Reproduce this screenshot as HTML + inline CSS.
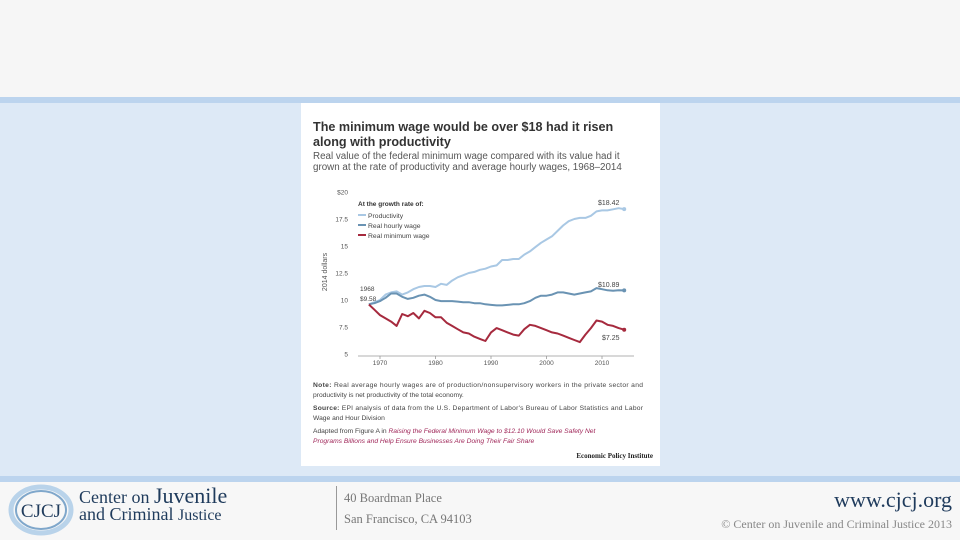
<!DOCTYPE html>
<html><head><meta charset="utf-8"><style>
body{margin:0;width:960px;height:540px;overflow:hidden;font-family:"Liberation Sans",sans-serif;background:#fff;position:relative}
div{position:absolute;box-sizing:border-box}
</style></head><body>
<div style="left:0;top:0;width:960px;height:97px;background:#f6f6f6"></div>
<div style="left:0;top:97px;width:960px;height:6px;background:#bcd4ee"></div>
<div style="left:0;top:103px;width:960px;height:373px;background:#dde9f6"></div>
<div style="left:0;top:476px;width:960px;height:6px;background:#bcd4ee"></div>
<div style="left:0;top:482px;width:960px;height:58px;background:#f7f7f7"></div>

<div style="left:301px;top:103px;width:359px;height:363px;background:#fff"></div>
<svg width="960" height="540" style="position:absolute;left:0;top:0" id="svg">
<text x="313" y="131" font-size="12.6" font-weight="bold" fill="#333">The minimum wage would be over $18 had it risen</text>
<text x="313" y="146" font-size="12.6" font-weight="bold" fill="#333">along with productivity</text>
<text x="313" y="159" font-size="9.8" fill="#555">Real value of the federal minimum wage compared with its value had it</text>
<text x="313" y="170" font-size="9.8" fill="#555">grown at the rate of productivity and average hourly wages, 1968–2014</text>
<text transform="translate(327,272) rotate(-90)" text-anchor="middle" font-size="7" fill="#555">2014 dollars</text>
<g id="axes"></g><g id="marks"></g>
<text x="358" y="206" font-size="6.5" font-weight="bold" fill="#333">At the growth rate of:</text>
<line x1="358" y1="215" x2="366" y2="215" stroke="#a9c8e4" stroke-width="2"/><text x="368" y="218" font-size="6.8" fill="#444">Productivity</text>
<line x1="358" y1="225" x2="366" y2="225" stroke="#6a93b3" stroke-width="2"/><text x="368" y="228" font-size="6.8" fill="#444">Real hourly wage</text>
<line x1="358" y1="235" x2="366" y2="235" stroke="#a62a3e" stroke-width="2"/><text x="368" y="238" font-size="6.8" fill="#444">Real minimum wage</text>
<text x="360" y="291" font-size="6.5" fill="#444">1968</text>
<text x="360" y="301" font-size="6.5" fill="#444">$9.58</text>
<text x="598" y="205" font-size="7" fill="#444">$18.42</text>
<text x="598" y="287" font-size="7" fill="#444">$10.89</text>
<text x="602" y="340" font-size="7" fill="#444">$7.25</text>
<text x="313" y="387" font-size="6.7" fill="#444" textLength="330"><tspan font-weight="bold">Note:</tspan> Real average hourly wages are of production/nonsupervisory workers in the private sector and</text>
<text x="313" y="397" font-size="6.7" fill="#444">productivity is net productivity of the total economy.</text>
<text x="313" y="410" font-size="6.7" fill="#444" textLength="330"><tspan font-weight="bold">Source:</tspan> EPI analysis of data from the U.S. Department of Labor's Bureau of Labor Statistics and Labor</text>
<text x="313" y="420" font-size="6.7" fill="#444">Wage and Hour Division</text>
<text x="313" y="433" font-size="6.7" fill="#444">Adapted from Figure A in <tspan fill="#a0285a" font-style="italic">Raising the Federal Minimum Wage to $12.10 Would Save Safety Net</tspan></text>
<text x="313" y="443" font-size="6.7" fill="#a0285a" font-style="italic">Programs Billions and Help Ensure Businesses Are Doing Their Fair Share</text>
<text x="653" y="458" text-anchor="end" font-size="7" font-weight="bold" fill="#222" font-family="Liberation Serif">Economic Policy Institute</text>
</svg>

<svg width="70" height="56" style="position:absolute;left:6px;top:482px">
<ellipse cx="35" cy="28" rx="30" ry="23" fill="none" stroke="#b9d3ea" stroke-width="5"/>
<ellipse cx="35" cy="28" rx="25" ry="19" fill="none" stroke="#7fa7cb" stroke-width="2"/>
<text x="35" y="35" text-anchor="middle" font-family="Liberation Serif" font-size="19" fill="#1f3b5c">CJCJ</text>
</svg>
<div style="left:79px;top:487px;font-family:'Liberation Serif',serif;color:#1f3b5c;font-size:18px;line-height:17px">Center on <span style="font-size:22px">Juvenile</span><br>and Criminal <span style="font-size:16px">Justice</span></div>
<div style="left:336px;top:486px;width:1px;height:44px;background:#999"></div>
<div style="left:344px;top:488px;font-family:'Liberation Serif',serif;color:#777;font-size:12.5px;line-height:21px">40 Boardman Place<br>San Francisco, CA 94103</div>
<div style="right:8px;top:487px;font-family:'Liberation Serif',serif;color:#1f3b5c;font-size:22px">www.cjcj.org</div>
<div style="right:8px;top:517px;font-family:'Liberation Serif',serif;color:#888;font-size:12px">© Center on Juvenile and Criminal Justice 2013</div>

<script>
const years=[1968,1969,1970,1971,1972,1973,1974,1975,1976,1977,1978,1979,1980,1981,1982,1983,1984,1985,1986,1987,1988,1989,1990,1991,1992,1993,1994,1995,1996,1997,1998,1999,2000,2001,2002,2003,2004,2005,2006,2007,2008,2009,2010,2011,2012,2013,2014];
const productivity=[9.6,9.8,10.0,10.5,10.7,10.8,10.5,10.7,11.0,11.2,11.3,11.3,11.2,11.5,11.4,11.8,12.1,12.3,12.5,12.6,12.8,12.9,13.1,13.2,13.7,13.7,13.8,13.8,14.2,14.5,14.9,15.3,15.6,15.9,16.4,16.9,17.3,17.5,17.6,17.6,17.8,18.2,18.3,18.3,18.4,18.5,18.42];
const hourlyWage=[9.6,9.7,9.9,10.2,10.6,10.6,10.3,10.1,10.2,10.4,10.5,10.3,10.0,9.9,9.9,9.9,9.85,9.8,9.8,9.7,9.7,9.6,9.55,9.5,9.5,9.55,9.6,9.6,9.7,9.9,10.2,10.4,10.4,10.5,10.7,10.7,10.6,10.5,10.6,10.7,10.8,11.1,11.0,10.9,10.85,10.9,10.89];
const minimumWage=[9.58,9.1,8.6,8.3,8.0,7.6,8.7,8.5,8.8,8.3,9.0,8.8,8.4,8.4,7.9,7.6,7.3,7.0,6.9,6.6,6.4,6.2,7.0,7.4,7.2,7.0,6.8,6.7,7.3,7.7,7.6,7.4,7.2,7.0,6.9,6.7,6.5,6.3,6.1,6.8,7.4,8.1,8.0,7.7,7.6,7.4,7.25];
const yTicks=[5,7.5,10,12.5,15,17.5,20];
const yTickLabels=["5","7.5","10","12.5","15","17.5","$20"];
const xTicks=[1970,1980,1990,2000,2010];

const NS="http://www.w3.org/2000/svg";
const xS=y=>380+(y-1970)*(222/40);
const yS=v=>354-(v-5)*10.8;
const axes=document.getElementById('axes'),marks=document.getElementById('marks');
function mk(t,a,p){const e=document.createElementNS(NS,t);for(const k in a)e.setAttribute(k,a[k]);p.appendChild(e);return e;}
yTicks.forEach((v,i)=>{const t=mk('text',{x:348,y:yS(v)+2.5,'text-anchor':'end','font-size':6.5,fill:'#555'},axes);t.textContent=yTickLabels[i];

});
const ax=mk('line',{x1:358,x2:634,y1:yS(5)+2,y2:yS(5)+2,stroke:'#999','stroke-width':0.8},axes);


xTicks.forEach(y=>{mk('line',{x1:xS(y),x2:xS(y),y1:yS(5)+2,y2:yS(5)+5,stroke:'#999','stroke-width':0.8},axes);
const t=mk('text',{x:xS(y),y:yS(5)+11,'text-anchor':'middle','font-size':6.5,fill:'#555'},axes);t.textContent=y;

});
function series(vals,color,name){
const d=vals.map((v,i)=>(i?'L':'M')+xS(years[i]).toFixed(1)+' '+yS(v).toFixed(1)).join(' ');
const p=mk('path',{d:d,fill:'none',stroke:color,'stroke-width':2,'stroke-linejoin':'round'},marks);


const n=vals.length-1;
const c=mk('circle',{cx:xS(years[n]),cy:yS(vals[n]),r:2,fill:color},marks);

}
series(productivity,'#a9c8e4','productivity-line');
series(hourlyWage,'#6a93b3','hourly-wage-line');
series(minimumWage,'#a62a3e','minimum-wage-line');
</script>
</body></html>
